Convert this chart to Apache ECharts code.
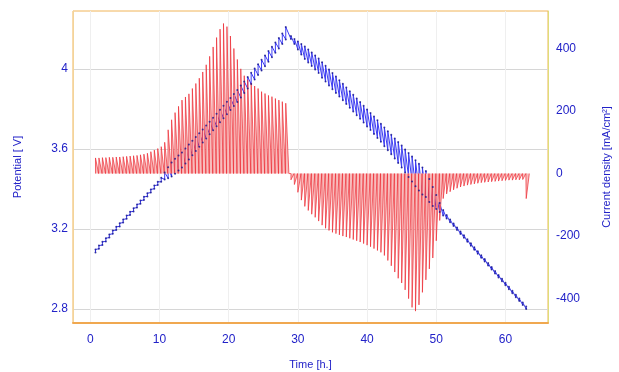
<!DOCTYPE html>
<html>
<head>
<meta charset="utf-8">
<script src="https://cdn.jsdelivr.net/npm/echarts@6/dist/echarts.min.js"></script>
<style>
  html, body { margin: 0; padding: 0; background: #fff; }
  #chart { width: 619px; height: 372px; }
</style>
</head>
<body>
<div id="chart"></div>
<script>
// pulse start times [h] : charge pulses then discharge pulses
const times = [
  0.75, 1.25, 1.75, 2.25, 2.75, 3.25, 3.75, 4.25, 4.75, 5.25, 5.75, 6.25, 6.75, 7.25, 7.75, 8.25, 8.75, 9.25, 9.75, 10.25, 10.75,
  11.25, 11.75, 12.25, 12.75, 13.25, 13.75, 14.25, 14.75, 15.25, 15.75, 16.25, 16.75, 17.25, 17.75, 18.25, 18.75, 19.25, 19.75, 20.25, 20.75,
  21.25, 21.75, 22.25, 22.75, 23.25, 23.75, 24.25, 24.75, 25.25, 25.75, 26.25, 26.75, 27.25, 27.75, 28.25,
  29, 29.5, 30, 30.5, 31, 31.5, 32, 32.5, 33,
  33.5, 34, 34.5, 35, 35.5, 36, 36.5, 37, 37.5, 38,
  38.5, 39, 39.5, 40, 40.5, 41, 41.5, 42, 42.5, 43,
  43.5, 44, 44.5, 45, 45.5, 46, 46.5, 47, 47.5, 48,
  48.5, 49, 49.5, 50, 50.5, 51, 51.5, 52, 52.5, 53,
  53.5, 54, 54.5, 55, 55.5, 56, 56.5, 57, 57.5, 58,
  58.5, 59, 59.5, 60, 60.5, 61, 61.5, 62, 62.5, 63
];
// current density peak of each pulse [mA/cm2]
const currentPeaks = [
  50, 50, 51, 51, 52, 52, 53, 53, 54, 55, 56, 57, 58, 60, 62, 65, 70, 75, 80, 86, 100,
  140, 172, 195, 215, 235, 245, 255, 272, 288, 305, 325, 348, 375, 405, 435, 462, 480, 470, 440, 400,
  365, 335, 313, 300, 290, 280, 272, 262, 256, 250, 246, 240, 235, 230, 225,
  -20, -35, -60, -85, -105, -118, -130, -140, -152,
  -165, -175, -182, -188, -192, -196, -200, -203, -207, -211,
  -215, -219, -224, -229, -234, -240, -246, -252, -262, -278,
  -295, -315, -335, -350, -372, -400, -428, -440, -420, -380,
  -340, -305, -270, -215, -150, -80, -65, -58, -52, -47,
  -43, -40, -37, -35, -33, -31, -29, -28, -27, -26,
  -25, -24, -23, -22, -21, -21, -20, -20, -19, -80
];
// potential, upper and lower value at each pulse [V]
const potentialHigh = [
  3.098, 3.117, 3.136, 3.154, 3.173, 3.192, 3.211, 3.229, 3.248, 3.267, 3.286, 3.304, 3.323, 3.342, 3.361, 3.379, 3.398, 3.417, 3.436, 3.456, 3.483,
  3.509, 3.532, 3.551, 3.567, 3.583, 3.603, 3.622, 3.641, 3.660, 3.679, 3.698, 3.717, 3.736, 3.756, 3.776, 3.796, 3.816, 3.836, 3.855, 3.875,
  3.895, 3.917, 3.938, 3.960, 3.981, 4.003, 4.024, 4.046, 4.068, 4.090, 4.111, 4.133, 4.155, 4.177, 4.210,
  4.165, 4.150, 4.138, 4.125, 4.112, 4.098, 4.083, 4.068, 4.052,
  4.034, 4.016, 3.998, 3.980, 3.962, 3.944, 3.926, 3.907, 3.889, 3.871,
  3.853, 3.835, 3.816, 3.798, 3.780, 3.762, 3.744, 3.726, 3.707, 3.689,
  3.671, 3.653, 3.635, 3.617, 3.598, 3.580, 3.562, 3.544, 3.526, 3.508,
  3.490, 3.450, 3.410, 3.370, 3.330, 3.295, 3.270, 3.248, 3.228, 3.208,
  3.188, 3.169, 3.149, 3.129, 3.109, 3.089, 3.069, 3.050, 3.030, 3.010,
  2.990, 2.970, 2.951, 2.931, 2.911, 2.891, 2.871, 2.852, 2.832, 2.812
];
const potentialLow = [
  3.082, 3.101, 3.120, 3.138, 3.157, 3.176, 3.195, 3.213, 3.232, 3.251, 3.270, 3.288, 3.307, 3.326, 3.345, 3.363, 3.382, 3.401, 3.420, 3.436, 3.448,
  3.454, 3.462, 3.476, 3.492, 3.508, 3.528, 3.548, 3.569, 3.590, 3.611, 3.632, 3.653, 3.674, 3.694, 3.714, 3.734, 3.754, 3.774, 3.795, 3.815,
  3.835, 3.857, 3.880, 3.902, 3.925, 3.947, 3.970, 3.992, 4.014, 4.036, 4.059, 4.081, 4.103, 4.125, 4.148,
  4.150, 4.125, 4.098, 4.072, 4.050, 4.033, 4.015, 3.998, 3.980,
  3.956, 3.937, 3.918, 3.899, 3.880, 3.862, 3.844, 3.825, 3.806, 3.788,
  3.769, 3.751, 3.732, 3.713, 3.695, 3.675, 3.655, 3.636, 3.614, 3.594,
  3.574, 3.553, 3.530, 3.507, 3.483, 3.460, 3.437, 3.414, 3.393, 3.373,
  3.360, 3.335, 3.315, 3.300, 3.285, 3.268, 3.252, 3.234, 3.215, 3.195,
  3.175, 3.156, 3.136, 3.116, 3.096, 3.076, 3.056, 3.037, 3.017, 2.997,
  2.977, 2.958, 2.939, 2.919, 2.899, 2.879, 2.859, 2.840, 2.820, 2.800
];
// tick labels
const timeTicks = [0, 10, 20, 30, 40, 50, 60];
const potentialTicks = [2.8, 3.2, 3.6, 4];
const currentTicks = [-400, -200, 0, 200, 400];

const pulseWidth = 0.45; // falling edge of each current spike, in hours
const labelColor = '#2222c8';
const font = 'Arial, "Liberation Sans", sans-serif';

// build line data from the arrays
const currentLine = [];
const potentialLine = [];
times.forEach((t, i) => {
  currentLine.push([t, 0], [t, currentPeaks[i]], [t + pulseWidth, 0]);
  potentialLine.push([t, potentialLow[i]], [t, potentialHigh[i]]);
});

const chart = echarts.init(document.getElementById('chart'), null, { renderer: 'canvas' });
chart.setOption({
  animation: false,
  backgroundColor: '#fff',
  grid: {
    left: 73, right: 71, top: 11, bottom: 49,
    outerBoundsMode: 'none',
    containLabel: false,
    show: true, borderColor: '#f0b458', borderWidth: 1
  },
  xAxis: {
    type: 'value',
    min: -2.5,
    max: 66.15,
    name: 'Time [h.]',
    nameLocation: 'middle',
    nameGap: 36,
    nameTextStyle: { color: labelColor, fontSize: 11, fontFamily: font },
    axisLine: { show: true, onZero: false, lineStyle: { color: '#f0a850', width: 2 } },
    axisTick: { show: false, customValues: timeTicks },
    axisLabel: { customValues: timeTicks, color: labelColor, fontSize: 12, fontFamily: font, margin: 11 },
    splitLine: { show: true, lineStyle: { color: '#efefef', width: 1 } }
  },
  yAxis: [
    {
      type: 'value',
      position: 'left',
      min: 2.73,
      max: 4.29,
      name: 'Potential [ V]',
      nameLocation: 'middle',
      nameRotate: 90,
      nameGap: 50,
      nameTextStyle: { color: labelColor, fontSize: 11, fontFamily: font },
      axisLine: { show: true, onZero: false, lineStyle: { color: '#f3d49a', width: 1 } },
      axisTick: { show: false, customValues: potentialTicks },
      axisLabel: {
        customValues: potentialTicks,
        color: labelColor, fontSize: 12, fontFamily: font, margin: 5,
        formatter: v => String(+(+v).toFixed(1))
      },
      splitLine: { show: true, lineStyle: { color: '#d6d6d6', width: 1 } }
    },
    {
      type: 'value',
      position: 'right',
      min: -478,
      max: 520,
      name: 'Current density [mA/cm²]',
      nameLocation: 'middle',
      nameRotate: 90,
      nameGap: 53,
      nameTextStyle: { color: labelColor, fontSize: 11, fontFamily: font },
      axisLine: { show: true, onZero: false, lineStyle: { color: '#dede7a', width: 1 } },
      axisTick: { show: false, customValues: currentTicks },
      axisLabel: { customValues: currentTicks, color: labelColor, fontSize: 12, fontFamily: font, margin: 8 },
      splitLine: { show: false }
    }
  ],
  series: [
    {
      name: 'Potential',
      type: 'line',
      yAxisIndex: 0,
      data: potentialLine,
      showSymbol: false,
      lineStyle: { color: '#3b3bf2', width: 1 },
      z: 2
    },
    {
      name: 'Current density',
      type: 'line',
      yAxisIndex: 1,
      data: currentLine,
      showSymbol: false,
      lineStyle: { color: '#ec2a32', width: 0.7 },
      areaStyle: { color: '#f8bcbc', opacity: 1, origin: 'auto' },
      z: 3
    },
    {
      name: 'Potential points',
      type: 'scatter',
      yAxisIndex: 0,
      data: potentialLine,
      symbolSize: 2,
      itemStyle: { color: '#16168c' },
      z: 4
    }
  ]
});
</script>
</body>
</html>
